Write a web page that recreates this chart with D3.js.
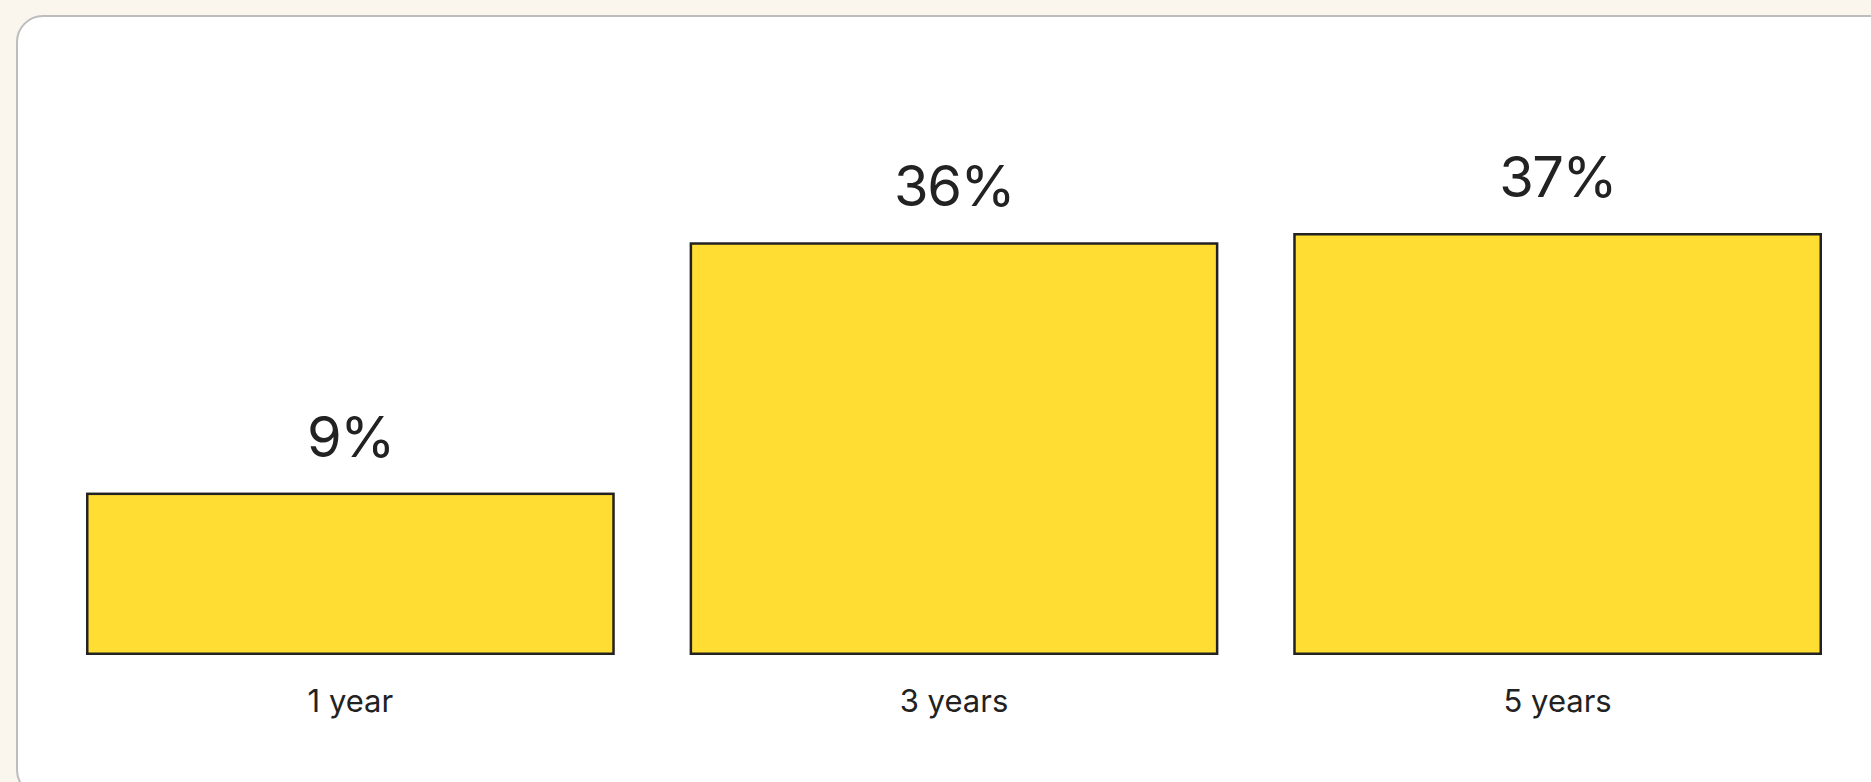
<!DOCTYPE html>
<html>
<head>
<meta charset="utf-8">
<script src="https://cdn.jsdelivr.net/npm/d3@7"></script>
<style>
  html, body { margin: 0; padding: 0; background: #faf6ee; overflow: hidden; }
  svg { display: block; font-family: Inter, "Noto Sans", sans-serif; }
</style>
</head>
<body>
<svg id="chart" width="1871" height="782"></svg>
<script>
const categories = ['1 year', '3 years', '5 years'];
const values = [9, 36, 37];
const valueLabels = ['9%', '36%', '37%'];

const BASELINE = 655;

let svg = d3.select('#chart');

// card behind the chart
svg.append('rect')
  .attr('x', 17)
  .attr('y', 16)
  .attr('width', 1950)
  .attr('height', 780)
  .attr('rx', 26)
  .style('fill', '#fff')
  .style('stroke', '#bdbdbd')
  .style('stroke-width', 2);

let x = d3.scaleBand()
  .domain(categories)
  .range([86, 1822])
  .paddingInner(0.124)
  .paddingOuter(0);

// bars don't start at zero in the original, small values get a minimum height
let y = d3.scaleLinear()
  .domain([0, d3.max(values)])
  .range([BASELINE - 79, 233]);

let g = svg.append('g');

g.selectAll('rect.bar')
  .data(values)
  .join('rect')
  .attr('class', 'bar')
  .attr('x', (d, i) => x(categories[i]) + 1.25)
  .attr('y', d => y(d) + 1.25)
  .attr('width', x.bandwidth() - 2.5)
  .attr('height', d => BASELINE - y(d) - 2.5)
  .style('fill', '#ffdd33')
  .style('stroke', '#222')
  .style('stroke-width', 2.5);

g.selectAll('text.value')
  .data(values)
  .join('text')
  .attr('class', 'value')
  .attr('x', (d, i) => x(categories[i]) + x.bandwidth() / 2)
  .attr('y', d => y(d) - 36)
  .attr('text-anchor', 'middle')
  .style('font-size', '56px')
  .style('letter-spacing', '-1.5px')
  .style('fill', '#222')
  .text((d, i) => valueLabels[i]);

g.selectAll('text.cat')
  .data(categories)
  .join('text')
  .attr('class', 'cat')
  .attr('x', d => x(d) + x.bandwidth() / 2)
  .attr('y', BASELINE + 57)
  .attr('text-anchor', 'middle')
  .style('font-size', '31px')
  .style('fill', '#222')
  .text(d => d);
</script>
</body>
</html>
